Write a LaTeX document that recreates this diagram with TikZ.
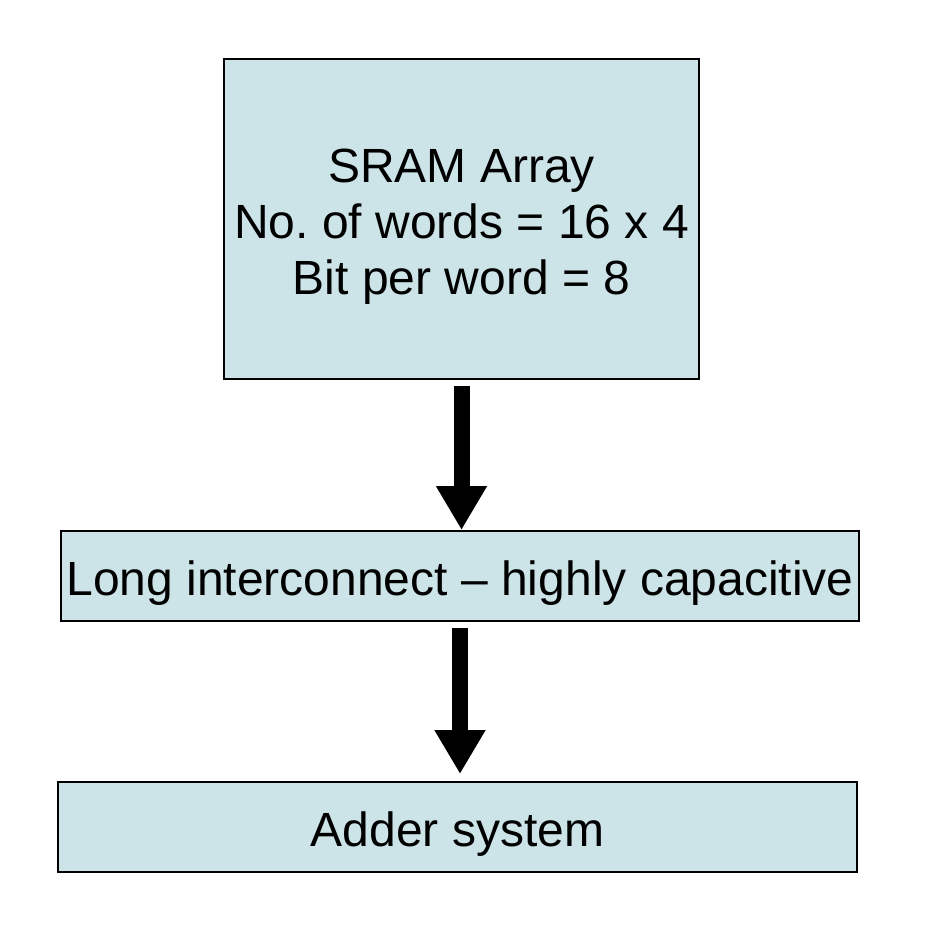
\documentclass[tikz,border=0pt]{standalone}
\usepackage{fontspec}
\setmainfont{Liberation Sans}
\usetikzlibrary{arrows.meta}
\definecolor{boxblue}{RGB}{204,228,232}
\frenchspacing

\begin{document}
\begin{tikzpicture}[x=0.5pt,y=-0.5pt,
  blockbox/.style={draw=black, line width=1pt, fill=boxblue, inner sep=0pt,
    align=center, font=\fontsize{24}{28}\selectfont},
  flowarrow/.style={line width=8pt, -{Triangle[width=24pt,length=22pt]}}]
\useasboundingbox (0,0) rectangle (952,952);
\node[blockbox, minimum width=237.5pt, minimum height=160pt] (sram) at (461.5,219)
  {\rule{0pt}{24.5pt}SRAM Array\\No. of words = 16 x 4\\Bit per word = 8};
\node[blockbox, minimum width=399pt, minimum height=45pt, text height=24.5pt] (wire) at (460,576)
  {Long interconnect -- highly capacitive};
\node[blockbox, minimum width=399.5pt, minimum height=45pt, text height=24.5pt] (adder) at (457.5,827)
  {Adder system};
\draw[flowarrow, shorten <=3pt] (sram.south) -- (sram.south |- wire.north);
\draw[flowarrow, shorten <=3pt, shorten >=3.5pt] (wire.south) -- (wire.south |- adder.north);
\end{tikzpicture}
\end{document}
